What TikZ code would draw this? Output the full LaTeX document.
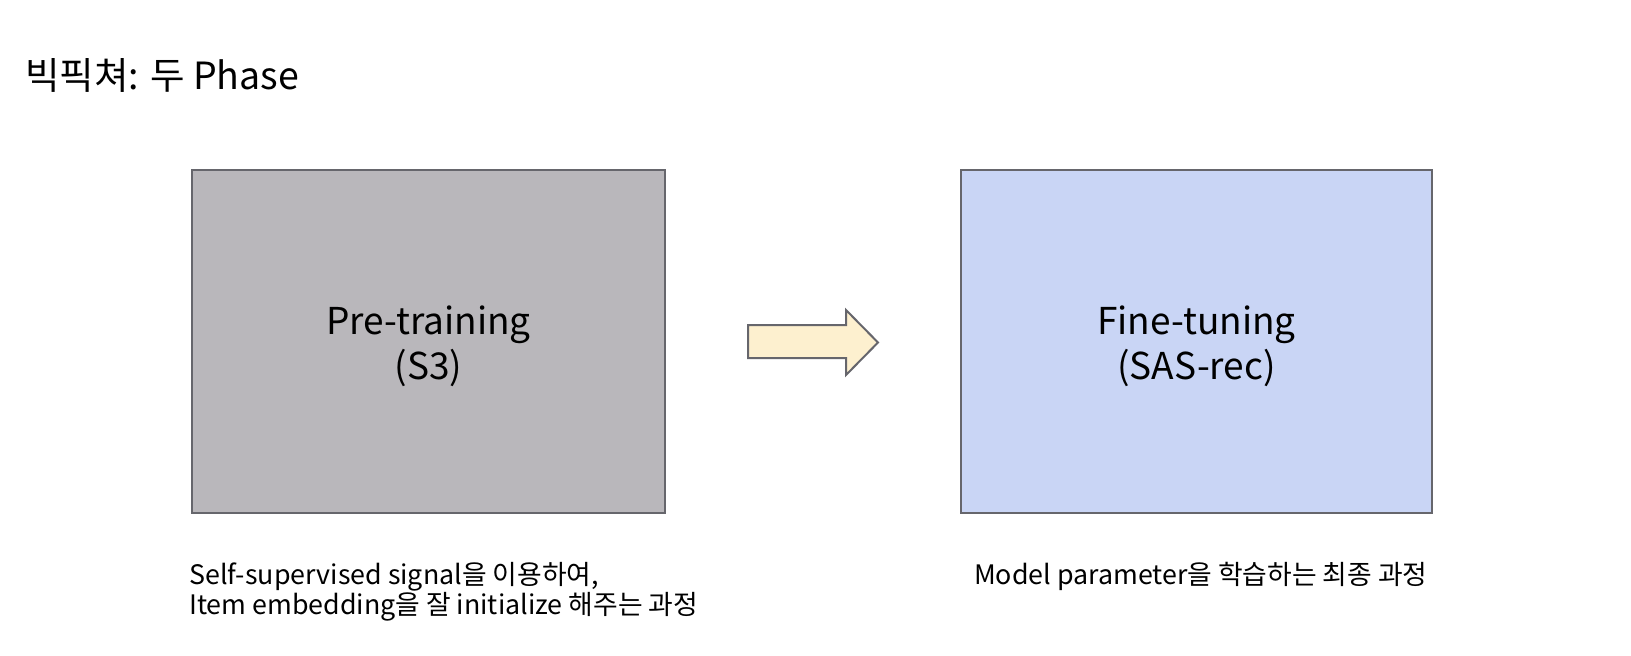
\documentclass[tikz,border=0pt]{standalone}
\usepackage{fontspec}
\setmainfont{Noto Sans CJK KR}
\definecolor{graybox}{HTML}{B9B7BB}
\definecolor{bluebox}{HTML}{C9D5F5}
\definecolor{boxline}{HTML}{66666C}
\definecolor{arrowfill}{HTML}{FDF0CF}
\begin{document}
\begin{tikzpicture}[x=1pt,y=-1pt,
  phasebox/.style={draw=boxline, line width=2, minimum width=473, minimum height=343, inner sep=0, align=center, font=\fontsize{37}{45}\selectfont},
  note/.style={anchor=base west, inner sep=0, font=\fontsize{26.8}{30}\selectfont}]
\useasboundingbox (0,0) rectangle (1631,656);
\fill[white] (0,0) rectangle (1631,656);
\node[anchor=base west, inner sep=0, font=\fontsize{37.5}{44}\selectfont] (title) at (25,89) {빅픽쳐: 두 Phase};
\node[phasebox, fill=graybox] (pre) at (428.5,341.5) {};
\node[align=center, font=\fontsize{37}{45}\selectfont] (pretxt) at (428.5,346) {Pre-training\\(S3)};
\node[phasebox, fill=bluebox, minimum width=471] (fine) at (1196.5,341.5) {};
\node[align=center, font=\fontsize{37}{45}\selectfont] (finetxt) at (1196.5,346) {Fine-tuning\\(SAS-rec)};
\draw[draw=boxline, line width=2, fill=arrowfill, line join=miter]
  (748,325) -- (846,325) -- (846,310) -- (878,342.5) -- (846,375) -- (846,358) -- (748,358) -- cycle;
\node[note] (l1) at (189,584) {Self-supervised signal을 이용하여,};
\node[note] (l2) at (189,614) {Item embedding을 잘 initialize 해주는 과정};
\node[note] (r1) at (974,584) {Model parameter을 학습하는 최종 과정};
\end{tikzpicture}
\end{document}
